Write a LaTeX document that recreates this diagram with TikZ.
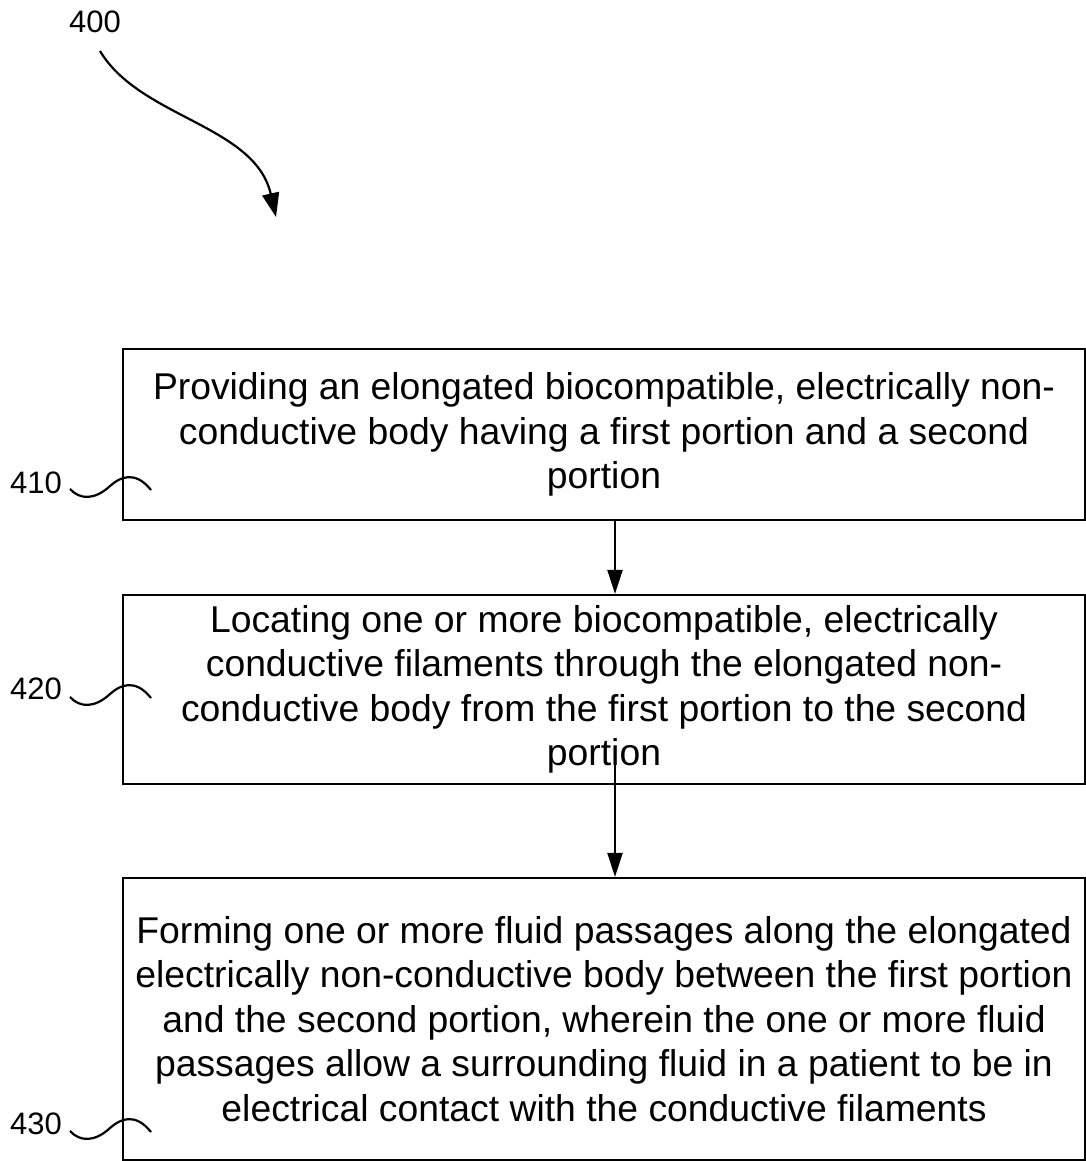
\documentclass[tikz,border=0pt]{standalone}
\usepackage{fontspec}
\setmainfont{Liberation Sans}
\usetikzlibrary{arrows.meta}
\tikzset{
  x=1pt,y=-1pt,
  stepbox/.style={draw,line width=2.2pt,rectangle,minimum width=962pt,inner sep=0pt,align=center,
     font=\fontsize{37.3}{44.5}\selectfont},
  reflabel/.style={font=\fontsize{31}{36}\selectfont,inner sep=0pt},
  flow/.style={line width=2.2pt,-{Triangle[length=24pt,width=15pt]}},
  squig/.style={line width=2.2pt},
  pics/wave/.style={code={\draw[squig] (0,0) .. controls (10,11) and (25,11) .. (40,-3) .. controls (50,-12) and (65,-19) .. (81,1);}}
}
\begin{document}
\begin{tikzpicture}
\useasboundingbox (0,0) rectangle (1086,1161);
\node[stepbox,minimum height=171pt] (b1) at (604,434.5) {Providing an elongated biocompatible, electrically non-\\conductive body having a first portion and a second\\portion};
\node[stepbox,minimum height=189pt] (b2) at (604,689.5) {Locating one or more biocompatible, electrically\\conductive filaments through the elongated non-\\conductive body from the first portion to the second\\portion};
\node[stepbox,minimum height=282pt] (b3) at (604,1019) {Forming one or more fluid passages along the elongated\\electrically non-conductive body between the first portion\\and the second portion, wherein the one or more fluid\\passages allow a surrounding fluid in a patient to be in\\electrical contact with the conductive filaments};
\coordinate (a2s) at (615,763);
\draw[flow] ([xshift=11pt]b1.south) -- ([xshift=11pt]b2.north);
\draw[flow] (a2s) -- ([xshift=11pt]b3.north);
\node[reflabel] (l400) at (95,22) {400};
\node[reflabel] (l410) at (36,483) {410};
\node[reflabel] (l420) at (36,689) {420};
\node[reflabel] (l430) at (36,1124) {430};
\coordinate (t400) at (276,217);
\draw[line width=2.2pt,-{Triangle[length=24pt,width=17pt]}] (100,51) .. controls (140,118) and (255,125) .. (t400);
\pic at (70,489) {wave};
\pic at (70,697) {wave};
\pic at (70,1131) {wave};
\end{tikzpicture}
\end{document}
